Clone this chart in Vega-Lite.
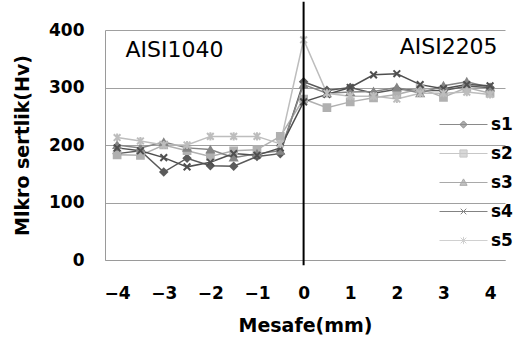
{
  "$schema": "https://vega.github.io/schema/vega-lite/v6.json",
  "width": 400,
  "height": 230,
  "autosize": {"type": "none"},
  "padding": {"left": 105, "top": 30, "right": 13, "bottom": 89},
  "background": "white",
  "config": {
    "view": {"stroke": null},
    "font": "DejaVu Sans",
    "axis": {"labelFont": "DejaVu Sans", "titleFont": "DejaVu Sans"}
  },
  "datasets": {
    "pts": [
      {"series": "s1", "x": -4, "y": 185}, {"series": "s1", "x": -3.5, "y": 190}, {"series": "s1", "x": -3, "y": 153}, {"series": "s1", "x": -2.5, "y": 177}, {"series": "s1", "x": -2, "y": 164}, {"series": "s1", "x": -1.5, "y": 163}, {"series": "s1", "x": -1, "y": 180}, {"series": "s1", "x": -0.5, "y": 185}, {"series": "s1", "x": 0, "y": 310}, {"series": "s1", "x": 0.5, "y": 295}, {"series": "s1", "x": 1, "y": 300}, {"series": "s1", "x": 1.5, "y": 290}, {"series": "s1", "x": 2, "y": 297}, {"series": "s1", "x": 2.5, "y": 295}, {"series": "s1", "x": 3, "y": 295}, {"series": "s1", "x": 3.5, "y": 302}, {"series": "s1", "x": 4, "y": 300},
      {"series": "s2", "x": -4, "y": 183}, {"series": "s2", "x": -3.5, "y": 182}, {"series": "s2", "x": -3, "y": 200}, {"series": "s2", "x": -2.5, "y": 190}, {"series": "s2", "x": -2, "y": 180}, {"series": "s2", "x": -1.5, "y": 190}, {"series": "s2", "x": -1, "y": 192}, {"series": "s2", "x": -0.5, "y": 215}, {"series": "s2", "x": 0, "y": 280}, {"series": "s2", "x": 0.5, "y": 265}, {"series": "s2", "x": 1, "y": 275}, {"series": "s2", "x": 1.5, "y": 282}, {"series": "s2", "x": 2, "y": 288}, {"series": "s2", "x": 2.5, "y": 298}, {"series": "s2", "x": 3, "y": 283}, {"series": "s2", "x": 3.5, "y": 300}, {"series": "s2", "x": 4, "y": 290},
      {"series": "s3", "x": -4, "y": 200}, {"series": "s3", "x": -3.5, "y": 195}, {"series": "s3", "x": -3, "y": 205}, {"series": "s3", "x": -2.5, "y": 195}, {"series": "s3", "x": -2, "y": 192}, {"series": "s3", "x": -1.5, "y": 178}, {"series": "s3", "x": -1, "y": 185}, {"series": "s3", "x": -0.5, "y": 190}, {"series": "s3", "x": 0, "y": 305}, {"series": "s3", "x": 0.5, "y": 290}, {"series": "s3", "x": 1, "y": 292}, {"series": "s3", "x": 1.5, "y": 293}, {"series": "s3", "x": 2, "y": 300}, {"series": "s3", "x": 2.5, "y": 290}, {"series": "s3", "x": 3, "y": 303}, {"series": "s3", "x": 3.5, "y": 310}, {"series": "s3", "x": 4, "y": 300},
      {"series": "s4", "x": -4, "y": 195}, {"series": "s4", "x": -3.5, "y": 190}, {"series": "s4", "x": -3, "y": 178}, {"series": "s4", "x": -2.5, "y": 162}, {"series": "s4", "x": -2, "y": 170}, {"series": "s4", "x": -1.5, "y": 185}, {"series": "s4", "x": -1, "y": 182}, {"series": "s4", "x": -0.5, "y": 195}, {"series": "s4", "x": 0, "y": 275}, {"series": "s4", "x": 0.5, "y": 288}, {"series": "s4", "x": 1, "y": 300}, {"series": "s4", "x": 1.5, "y": 322}, {"series": "s4", "x": 2, "y": 324}, {"series": "s4", "x": 2.5, "y": 305}, {"series": "s4", "x": 3, "y": 298}, {"series": "s4", "x": 3.5, "y": 305}, {"series": "s4", "x": 4, "y": 303},
      {"series": "s5", "x": -4, "y": 213}, {"series": "s5", "x": -3.5, "y": 207}, {"series": "s5", "x": -3, "y": 200}, {"series": "s5", "x": -2.5, "y": 200}, {"series": "s5", "x": -2, "y": 215}, {"series": "s5", "x": -1.5, "y": 215}, {"series": "s5", "x": -1, "y": 215}, {"series": "s5", "x": -0.5, "y": 202}, {"series": "s5", "x": 0, "y": 383}, {"series": "s5", "x": 0.5, "y": 290}, {"series": "s5", "x": 1, "y": 285}, {"series": "s5", "x": 1.5, "y": 285}, {"series": "s5", "x": 2, "y": 280}, {"series": "s5", "x": 2.5, "y": 290}, {"series": "s5", "x": 3, "y": 290}, {"series": "s5", "x": 3.5, "y": 292}, {"series": "s5", "x": 4, "y": 288}
    ],
    "ann": [
      {"label": "AISI1040", "x": -3.82, "y": 353},
      {"label": "AISI2205", "x": 2.06, "y": 358}
    ],
    "vline": [{"x": 0, "y": -9, "y2": 449}]
  },
  "resolve": {
    "scale": {"shape": "independent", "stroke": "independent", "fill": "independent", "color": "independent"},
    "legend": {"shape": "independent", "stroke": "independent", "fill": "independent", "color": "independent"}
  },
  "layer": [
    {
      "data": {"name": "pts"},
      "mark": {"type": "line", "strokeWidth": 1.5},
      "encoding": {
        "x": {"field": "x", "type": "quantitative", "scale": {"domain": [-4.26, 4.32], "nice": false, "zero": false},
          "axis": {"values": [-4, -3, -2, -1, 0, 1, 2, 3, 4], "grid": false, "ticks": false, "domainColor": "#9a9a9a", "domainWidth": 1,
            "labelFontSize": 17, "labelFontWeight": "bold", "labelColor": "black", "labelPadding": 25,
            "title": "Mesafe(mm)", "titleFontSize": 19, "titleFontWeight": "bold", "titleColor": "black", "titlePadding": 15}},
        "y": {"field": "y", "type": "quantitative", "scale": {"domain": [0, 400], "nice": false},
          "axis": {"values": [0, 100, 200, 300, 400], "grid": true, "gridColor": "#a0a0a0", "gridWidth": 1, "ticks": false,
            "domainColor": "#9a9a9a", "domainWidth": 1,
            "labelFontSize": 17, "labelFontWeight": "bold", "labelColor": "black", "labelPadding": 21,
            "title": "Mlkro sertlik(Hv)", "titleFontSize": 19, "titleFontWeight": "bold", "titleColor": "black", "titlePadding": 16}},
        "color": {"field": "series", "type": "nominal",
          "scale": {"domain": ["s1", "s2", "s3", "s4", "s5"], "range": ["#5a5a5a", "#b0b0b0", "#858585", "#4f4f4f", "#bdbdbd"]},
          "legend": null}
      }
    },
    {
      "data": {"name": "pts"},
      "mark": {"type": "point", "filled": true, "opacity": 1, "strokeWidth": 2},
      "encoding": {
        "x": {"field": "x", "type": "quantitative", "scale": {"domain": [-4.26, 4.32], "nice": false, "zero": false}},
        "y": {"field": "y", "type": "quantitative", "scale": {"domain": [0, 400], "nice": false}},
        "shape": {"field": "series", "type": "nominal",
          "scale": {"domain": ["s1", "s2", "s3", "s4", "s5"], "range": ["diamond", "square", "triangle-up", "M-1,-1L1,1M-1,1L1,-1", "M-1,-1L1,1M-1,1L1,-1M0,-1.2L0,1.2"]},
          "legend": null},
        "size": {"field": "series", "type": "nominal",
          "scale": {"domain": ["s1", "s2", "s3", "s4", "s5"], "range": [45, 45, 40, 30, 30]}, "legend": null},
        "color": {"field": "series", "type": "nominal",
          "scale": {"domain": ["s1", "s2", "s3", "s4", "s5"], "range": ["#5a5a5a", "#b0b0b0", "#858585", "#4f4f4f", "#bdbdbd"]},
          "legend": null},
        "stroke": {"field": "series", "type": "nominal",
          "scale": {"domain": ["s1", "s2", "s3", "s4", "s5"], "range": ["#5a5a5a", "#b0b0b0", "#858585", "#4f4f4f", "#bdbdbd"]},
          "legend": null}
      }
    },
    {
      "data": {"name": "pts"},
      "transform": [{"filter": "datum.x > 100"}],
      "mark": {"type": "point", "strokeWidth": 1},
      "encoding": {
        "x": {"field": "x", "type": "quantitative", "scale": {"domain": [-4.26, 4.32], "nice": false, "zero": false}},
        "y": {"field": "y", "type": "quantitative", "scale": {"domain": [0, 400], "nice": false}},
        "shape": {"field": "series", "type": "nominal",
          "scale": {"domain": ["s1", "s2", "s3", "s4", "s5"], "range": [
            "M-3,0H3M0,-0.45L0.45,0L0,0.45L-0.45,0Z",
            "M-3,0H3M-0.45,-0.45H0.45V0.45H-0.45Z",
            "M-3,0H3M0,-0.45L0.45,0.35H-0.45Z",
            "M-3,0H3M-0.35,-0.35L0.35,0.35M-0.35,0.35L0.35,-0.35",
            "M-3,0H3M-0.35,-0.35L0.35,0.35M-0.35,0.35L0.35,-0.35M0,-0.45V0.45"]},
          "legend": {"title": null, "orient": "none", "legendX": 350, "legendY": 86, "symbolSize": 256,
            "labelFontSize": 17, "labelFontWeight": "bold", "labelColor": "black", "labelFont": "DejaVu Sans",
            "labelOffset": 19, "rowPadding": 11, "symbolStrokeWidth": 1}},
        "fill": {"field": "series", "type": "nominal",
          "scale": {"domain": ["s1", "s2", "s3", "s4", "s5"], "range": ["#5a5a5a", "#b0b0b0", "#858585", "#4f4f4f", "#bdbdbd"]},
          "legend": {"title": null, "orient": "none", "legendX": 350, "legendY": 86, "symbolSize": 256,
            "labelFontSize": 17, "labelFontWeight": "bold", "labelColor": "black", "labelFont": "DejaVu Sans",
            "labelOffset": 19, "rowPadding": 11, "symbolStrokeWidth": 1}},
        "stroke": {"field": "series", "type": "nominal",
          "scale": {"domain": ["s1", "s2", "s3", "s4", "s5"], "range": ["#5a5a5a", "#b0b0b0", "#858585", "#4f4f4f", "#bdbdbd"]},
          "legend": {"title": null, "orient": "none", "legendX": 350, "legendY": 86, "symbolSize": 256,
            "labelFontSize": 17, "labelFontWeight": "bold", "labelColor": "black", "labelFont": "DejaVu Sans",
            "labelOffset": 19, "rowPadding": 11, "symbolStrokeWidth": 1}}
      }
    },
    {
      "data": {"name": "vline"},
      "mark": {"type": "rule", "color": "black", "strokeWidth": 2},
      "encoding": {
        "x": {"field": "x", "type": "quantitative", "scale": {"domain": [-4.26, 4.32], "nice": false, "zero": false}},
        "y": {"field": "y", "type": "quantitative", "scale": {"domain": [0, 400], "nice": false}},
        "y2": {"field": "y2"}
      }
    },
    {
      "data": {"name": "ann"},
      "mark": {"type": "text", "align": "left", "baseline": "alphabetic", "font": "DejaVu Sans", "fontSize": 22, "color": "black"},
      "encoding": {
        "x": {"field": "x", "type": "quantitative", "scale": {"domain": [-4.26, 4.32], "nice": false, "zero": false}},
        "y": {"field": "y", "type": "quantitative", "scale": {"domain": [0, 400], "nice": false}},
        "text": {"field": "label"}
      }
    }
  ]
}
